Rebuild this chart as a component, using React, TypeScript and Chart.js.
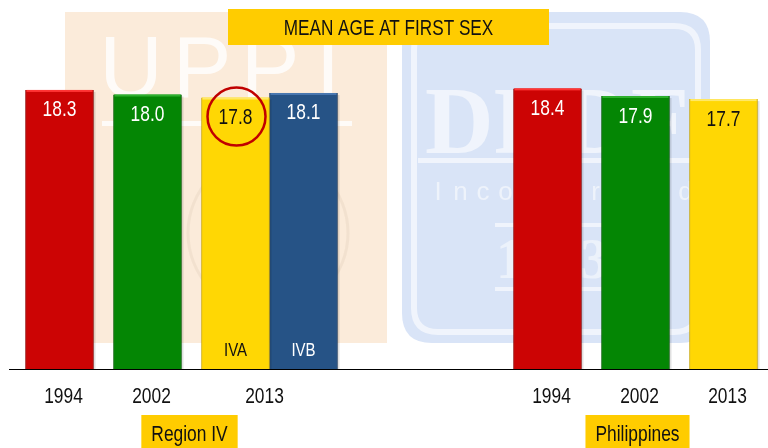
import React, { useEffect, useRef } from "react";
import { Chart, registerables } from "chart.js";

Chart.register(...registerables);

// ---- data ----
const chartTitle = "MEAN AGE AT FIRST SEX";
const categories = ["1994", "2002", "2013", "", "1994", "2002", "2013"];
const regionIV = [18.3, 18.0, 17.8, null, null, null, null];
const regionIVB = [null, null, 18.1, null, null, null, null];
const philippines = [null, null, null, null, 18.4, 17.9, 17.7];
const regionIVSub = [null, null, "IVA", null, null, null, null];
const regionIVBSub = [null, null, "IVB", null, null, null, null];
const groupNames = ["Region IV", "Philippines"];
const groupDatasets = [[0, 1], [2]];
const highlightDataset = 0;
const highlightIndex = 2;
const yMin = 0;
const yMax = 20;

// ---- styles ----
const RED = "#CC0404";
const GREEN = "#048604";
const YELLOW = "#FFD704";
const BLUE = "#265386";
const yearColor: Record<string, string> = { "1994": RED, "2002": GREEN, "2013": YELLOW };
const darker: Record<string, string> = {
  [RED]: "#8E0202",
  [GREEN]: "#035C03",
  [YELLOW]: "#C9A600",
  [BLUE]: "#1A3A60",
};
const lighter: Record<string, string> = {
  [RED]: "#FF3434",
  [GREEN]: "#2EB02E",
  [YELLOW]: "#FFE866",
  [BLUE]: "#4A78B0",
};
const textOn: Record<string, string> = { [RED]: "#FFFFFF", [GREEN]: "#FFFFFF", [YELLOW]: "#111111", [BLUE]: "#FFFFFF" };
const GOLD = "#FFCC00";
const FONT = '"Liberation Sans", Arial, sans-serif';
const SX = 0.79;

function narrowText(
  ctx: CanvasRenderingContext2D,
  text: string,
  x: number,
  baseline: number,
  size: number,
  color: string,
  sx = SX
) {
  ctx.save();
  ctx.font = `${size}px ${FONT}`;
  ctx.fillStyle = color;
  ctx.textAlign = "center";
  ctx.textBaseline = "alphabetic";
  ctx.translate(x, baseline);
  ctx.scale(sx, 1);
  ctx.fillText(text, 0, 0);
  ctx.restore();
}

function narrowWidth(ctx: CanvasRenderingContext2D, text: string, size: number, sx = SX) {
  ctx.save();
  ctx.font = `${size}px ${FONT}`;
  const w = ctx.measureText(text).width * sx;
  ctx.restore();
  return w;
}

function rrect(ctx: CanvasRenderingContext2D, x: number, y: number, w: number, h: number, r: number) {
  ctx.beginPath();
  ctx.moveTo(x + r, y);
  ctx.lineTo(x + w - r, y);
  ctx.quadraticCurveTo(x + w, y, x + w, y + r);
  ctx.lineTo(x + w, y + h - r);
  ctx.quadraticCurveTo(x + w, y + h, x + w - r, y + h);
  ctx.lineTo(x + r, y + h);
  ctx.quadraticCurveTo(x, y + h, x, y + h - r);
  ctx.lineTo(x, y + r);
  ctx.quadraticCurveTo(x, y, x + r, y);
  ctx.closePath();
}

const subLabelSets = [regionIVSub, regionIVBSub, [] as (string | null)[]];

const decor = {
  id: "decor",
  beforeDraw(chart: any) {
    const ctx: CanvasRenderingContext2D = chart.ctx;
    ctx.save();
    ctx.fillStyle = "#FFFFFF";
    ctx.fillRect(0, 0, chart.width, chart.height);

    // UPPI watermark
    ctx.fillStyle = "#FBEBDA";
    ctx.fillRect(65, 12, 322, 331);
    ctx.fillStyle = "rgba(255,255,255,0.8)";
    ctx.font = `88px ${FONT}`;
    ctx.textAlign = "center";
    ctx.textBaseline = "alphabetic";
    const uppi = ["U", "P", "P", "I"];
    const ux = [131, 202, 270, 328];
    uppi.forEach((c, i) => ctx.fillText(c, ux[i], 97));
    ctx.fillRect(102, 121, 250, 5);
    ctx.strokeStyle = "rgba(190,170,140,0.14)";
    ctx.lineWidth = 3;
    ctx.beginPath();
    ctx.arc(268, 233, 80, 0, Math.PI * 2);
    ctx.stroke();
    ctx.beginPath();
    ctx.arc(268, 233, 60, 0, Math.PI * 2);
    ctx.stroke();

    // DRDF watermark
    ctx.fillStyle = "#D9E4F7";
    rrect(ctx, 402, 12, 308, 331, 30);
    ctx.fill();
    ctx.strokeStyle = "rgba(255,255,255,0.6)";
    ctx.lineWidth = 6;
    rrect(ctx, 414, 26, 284, 306, 24);
    ctx.stroke();
    ctx.fillStyle = "rgba(255,255,255,0.6)";
    ctx.font = 'bold 95px "Liberation Serif", serif';
    ctx.textAlign = "center";
    ctx.fillText("DRDF", 557, 153);
    ctx.fillRect(418, 158, 277, 5);
    ctx.font = `26px ${FONT}`;
    ctx.fillStyle = "rgba(255,255,255,0.55)";
    const inc = "Incorporated".split("");
    inc.forEach((c, i) => ctx.fillText(c, 438 + i * 22.5, 200));
    ctx.fillStyle = "rgba(255,255,255,0.6)";
    ctx.fillRect(495, 223, 107, 4);
    ctx.fillRect(495, 287, 107, 4);
    ctx.font = 'bold 56px "Liberation Serif", serif';
    ctx.fillStyle = "rgba(255,255,255,0.5)";
    ctx.fillText("1983", 552, 278);

    // title box
    ctx.fillStyle = GOLD;
    ctx.fillRect(228, 9, 321, 36);
    ctx.restore();
    narrowText(ctx, chartTitle, 388.5, 35, 22, "#111111", 0.78);
  },
  afterDatasetsDraw(chart: any) {
    const ctx: CanvasRenderingContext2D = chart.ctx;
    const yScale = chart.scales.y;
    const base = Math.round(yScale.getPixelForValue(0)) + 0.5;

    // bar bevel highlights + value labels + sub labels
    chart.data.datasets.forEach((ds: any, di: number) => {
      const meta = chart.getDatasetMeta(di);
      meta.data.forEach((bar: any, i: number) => {
        const v = ds.data[i];
        if (v === null || v === undefined) return;
        const color = Array.isArray(ds.backgroundColor) ? ds.backgroundColor[i] : ds.backgroundColor;
        const left = bar.x - bar.width / 2;
        ctx.save();
        ctx.fillStyle = lighter[color] || color;
        ctx.fillRect(left + 1, bar.y, bar.width - 2, 2);
        ctx.fillStyle = "rgba(0,0,0,0.12)";
        ctx.fillRect(left + bar.width, bar.y + 2, 2, bar.base - bar.y - 2);
        ctx.restore();
        narrowText(ctx, v.toFixed(1), bar.x, bar.y + 26.5, 22, textOn[color] || "#fff");
        const sub = subLabelSets[di][i];
        if (sub) narrowText(ctx, sub, bar.x, bar.base - 13, 19, textOn[color] || "#fff");
        if (di === highlightDataset && i === highlightIndex) {
          ctx.save();
          ctx.strokeStyle = "#C00000";
          ctx.lineWidth = 2.5;
          ctx.beginPath();
          ctx.arc(bar.x + 1, bar.y + 19, 29, 0, Math.PI * 2);
          ctx.stroke();
          ctx.restore();
        }
      });
    });

    // baseline
    ctx.save();
    ctx.strokeStyle = "#000000";
    ctx.lineWidth = 1.2;
    ctx.beginPath();
    ctx.moveTo(9, base);
    ctx.lineTo(chart.width, base);
    ctx.stroke();
    ctx.restore();

    // category labels centred under their bars
    chart.data.labels.forEach((lab: string, i: number) => {
      if (!lab) return;
      const xs: number[] = [];
      chart.data.datasets.forEach((ds: any, di: number) => {
        if (ds.data[i] !== null && ds.data[i] !== undefined) xs.push(chart.getDatasetMeta(di).data[i].x);
      });
      if (!xs.length) return;
      const cx = xs.reduce((a, b) => a + b, 0) / xs.length;
      narrowText(ctx, lab, cx - (xs.length > 1 ? 5 : -4), 403, 22, "#111111");
    });

    // group boxes
    groupNames.forEach((name, gi) => {
      let lo = Infinity;
      let hi = -Infinity;
      groupDatasets[gi].forEach((di) => {
        const ds = chart.data.datasets[di];
        chart.getDatasetMeta(di).data.forEach((bar: any, i: number) => {
          if (ds.data[i] === null || ds.data[i] === undefined) return;
          lo = Math.min(lo, bar.x - bar.width / 2);
          hi = Math.max(hi, bar.x + bar.width / 2);
        });
      });
      const cx = (lo + hi) / 2 + (gi === 0 ? 8 : 2);
      const w = narrowWidth(ctx, name, 22) + 20;
      ctx.save();
      ctx.fillStyle = GOLD;
      ctx.fillRect(cx - w / 2, 415, w, 34);
      ctx.restore();
      narrowText(ctx, name, cx, 441, 22, "#111111");
    });
  },
};

export default function App() {
  const ref = useRef<HTMLCanvasElement | null>(null);
  useEffect(() => {
    if (!ref.current) return;
    const mk = (data: (number | null)[], colors: string[], label: string) => ({
      label,
      data,
      backgroundColor: colors,
      borderColor: colors.map((c) => darker[c] || c),
      borderWidth: { top: 0, left: 1, right: 1, bottom: 0 },
      borderSkipped: false,
      barThickness: 68,
      clip: false as const,
    });
    const chart = new Chart(ref.current, {
      type: "bar",
      data: {
        labels: categories,
        datasets: [
          mk(regionIV, categories.map((c) => yearColor[c] || YELLOW), "Region IV"),
          mk(regionIVB, categories.map(() => BLUE), "Region IVB"),
          mk(philippines, categories.map((c) => yearColor[c] || YELLOW), "Philippines"),
        ] as any,
      },
      options: {
        responsive: false,
        animation: false,
        layout: { padding: { left: 83.5, right: 68.5, top: 64, bottom: 79 } },
        scales: {
          x: { display: false },
          y: { display: false, min: yMin, max: yMax },
        },
        plugins: {
          legend: { display: false },
          tooltip: { enabled: false },
        },
      },
      plugins: [decor as any],
    });
    return () => chart.destroy();
  }, []);
  return (
    <div style={{ position: "absolute", left: 0, top: 0, width: 768, height: 448, background: "#fff" }}>
      <canvas ref={ref} width={768} height={448} style={{ display: "block", width: 768, height: 448 }} />
    </div>
  );
}
